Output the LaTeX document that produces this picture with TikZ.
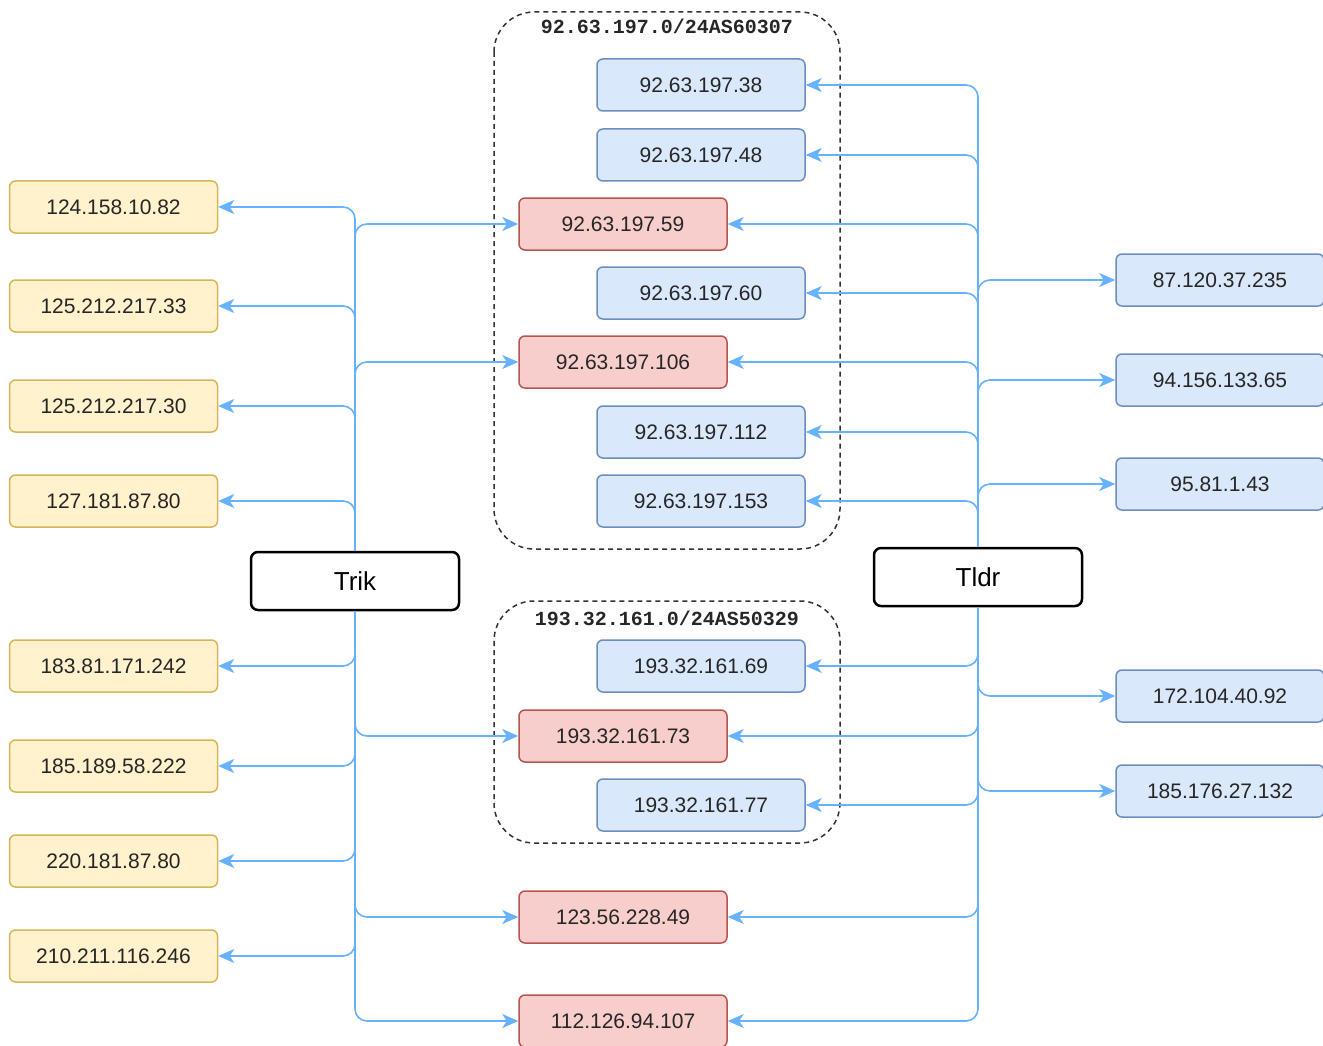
\documentclass[tikz,border=0pt]{standalone}
\usepackage{fontspec}
\setmainfont{Liberation Sans}
\newfontfamily\subnetfont{Liberation Mono}
\usepackage{tikz}
\usetikzlibrary{arrows.meta, positioning}
\definecolor{hostBlue}{HTML}{DAE8FC}
\definecolor{hostBlueLine}{HTML}{6C8EBF}
\definecolor{hostRed}{HTML}{F8CECC}
\definecolor{hostRedLine}{HTML}{B85450}
\definecolor{hostYellow}{HTML}{FFF2CC}
\definecolor{hostYellowLine}{HTML}{D6B656}
\definecolor{linkBlue}{HTML}{66B2FF}

\tikzset{
  hostbox/.style={rounded corners=6pt, minimum width=208pt, minimum height=52pt, inner sep=0pt,
    line width=1.5pt, text=black!85, font=\fontsize{21}{25}\selectfont},
  ipblue/.style={hostbox, draw=hostBlueLine, fill=hostBlue},
  ipred/.style={hostbox, draw=hostRedLine, fill=hostRed},
  ipyellow/.style={hostbox, draw=hostYellowLine, fill=hostYellow},
  toolbox/.style={draw=black, fill=white, line width=2.5pt, rounded corners=7pt,
    minimum width=208pt, minimum height=58pt, font=\fontsize{26}{30}\selectfont},
  subnet/.style={draw=black!80, line width=1.5pt, dash pattern=on 5pt off 4pt, rounded corners=40pt},
  subnetlabel/.style={font=\subnetfont\bfseries\fontsize{20}{23}\selectfont, text=black!85},
  link/.style={->, draw=linkBlue, line width=1.6pt, rounded corners=12pt}
}

\begin{document}
\begin{tikzpicture}[x=1pt, y=-1pt, >={Stealth[length=16pt, width=14pt, inset=4.5pt]}]
  \useasboundingbox (0,0) rectangle (1323,1046);

  % Subnets
  \draw[subnet] (494,12) rectangle (840,549);
  \node[subnetlabel] (net1) at (667,26) {92.63.197.0/24AS60307};
  \draw[subnet] (494,601) rectangle (840,843);
  \node[subnetlabel] (net2) at (667,618) {193.32.161.0/24AS50329};

  % Tools
  \node[toolbox] (trik) at (355,581) {Trik};
  \node[toolbox] (tldr) at (978,577) {Tldr};

  % Left hosts
  \node[ipyellow] (y1) at (113.5,207) {124.158.10.82};
  \node[ipyellow] (y2) at (113.5,306) {125.212.217.33};
  \node[ipyellow] (y3) at (113.5,406) {125.212.217.30};
  \node[ipyellow] (y4) at (113.5,501) {127.181.87.80};
  \node[ipyellow] (y5) at (113.5,666) {183.81.171.242};
  \node[ipyellow] (y6) at (113.5,766) {185.189.58.222};
  \node[ipyellow] (y7) at (113.5,861) {220.181.87.80};
  \node[ipyellow] (y8) at (113.5,956) {210.211.116.246};

  % Subnet hosts
  \node[ipblue] (b1) at (701,85) {92.63.197.38};
  \node[ipblue] (b2) at (701,155) {92.63.197.48};
  \node[ipred]  (r1) at (623,224) {92.63.197.59};
  \node[ipblue] (b3) at (701,293) {92.63.197.60};
  \node[ipred]  (r2) at (623,362) {92.63.197.106};
  \node[ipblue] (b4) at (701,432) {92.63.197.112};
  \node[ipblue] (b5) at (701,501) {92.63.197.153};
  \node[ipblue] (c1) at (701,666) {193.32.161.69};
  \node[ipred]  (r3) at (623,736) {193.32.161.73};
  \node[ipblue] (c2) at (701,805) {193.32.161.77};
  \node[ipred]  (r4) at (623,917) {123.56.228.49};
  \node[ipred]  (r5) at (623,1021) {112.126.94.107};

  % Right hosts
  \node[ipblue] (q1) at (1220,280) {87.120.37.235};
  \node[ipblue] (q2) at (1220,380) {94.156.133.65};
  \node[ipblue] (q3) at (1220,484) {95.81.1.43};
  \node[ipblue] (q4) at (1220,696) {172.104.40.92};
  \node[ipblue] (q5) at (1220,791) {185.176.27.132};

  % Trik links
  \draw[link] (trik) |- (y1);
  \draw[link] (trik) |- (y2);
  \draw[link] (trik) |- (y3);
  \draw[link] (trik) |- (y4);
  \draw[link] (trik) |- (y5);
  \draw[link] (trik) |- (y6);
  \draw[link] (trik) |- (y7);
  \draw[link] (trik) |- (y8);
  \draw[link] (trik) |- (r1);
  \draw[link] (trik) |- (r2);
  \draw[link] (trik) |- (r3);
  \draw[link] (trik) |- (r4);
  \draw[link] (trik) |- (r5);

  % Tldr links
  \draw[link] (tldr) |- (b1);
  \draw[link] (tldr) |- (b2);
  \draw[link] (tldr) |- (r1);
  \draw[link] (tldr) |- (b3);
  \draw[link] (tldr) |- (r2);
  \draw[link] (tldr) |- (b4);
  \draw[link] (tldr) |- (b5);
  \draw[link] (tldr) |- (c1);
  \draw[link] (tldr) |- (r3);
  \draw[link] (tldr) |- (c2);
  \draw[link] (tldr) |- (r4);
  \draw[link] (tldr) |- (r5);
  \draw[link] (tldr) |- (q1);
  \draw[link] (tldr) |- (q2);
  \draw[link] (tldr) |- (q3);
  \draw[link] (tldr) |- (q4);
  \draw[link] (tldr) |- (q5);
\end{tikzpicture}
\end{document}
